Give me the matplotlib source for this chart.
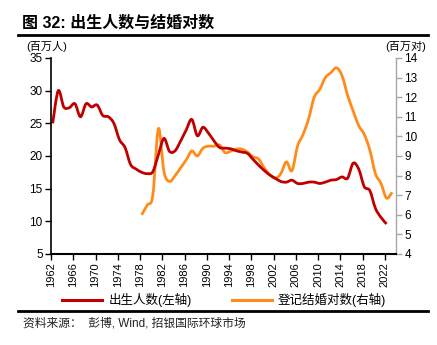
import matplotlib
matplotlib.use('Agg')
import matplotlib.pyplot as plt
from matplotlib.lines import Line2D
from matplotlib.path import Path
from matplotlib.patches import PathPatch

plt.rcParams['font.family'] = ['Liberation Sans', 'Noto Sans CJK SC', 'DejaVu Sans']

# 出生人数（百万人），1962-2022
birth_years = list(range(1962, 2023))
births = [25.0, 30.0, 27.5, 27.4, 28.0, 26.0, 28.0, 27.5, 27.8, 26.2,
          26.0, 25.0, 22.5, 21.3, 18.7, 18.0, 17.5, 17.3, 17.6, 20.2,
          22.7, 20.7, 20.8, 22.3, 24.0, 25.6, 23.1, 24.4, 23.5, 22.3,
          21.3, 21.2, 21.1, 20.8, 20.6, 20.4, 19.5, 18.6, 17.8, 17.1,
          16.6, 16.1, 16.0, 16.3, 15.8, 15.8, 16.0, 16.0, 15.8, 16.0,
          16.3, 16.4, 16.8, 16.6, 18.9, 18.0, 15.3, 14.7, 12.0, 10.6, 9.6]

# 登记结婚对数（百万对），1978-2023
marriage_years = list(range(1978, 2024))
marriages = [6.0, 6.5, 7.0, 10.4, 8.2, 7.7, 8.0, 8.4, 8.8, 9.26,
             9.0, 9.4, 9.5, 9.5, 9.56, 9.17, 9.25, 9.35, 9.35, 9.2,
             8.96, 8.85, 8.4, 8.05, 7.86, 8.1, 8.7, 8.25, 9.5, 10.1,
             10.9, 12.0, 12.4, 13.0, 13.25, 13.5, 13.1, 12.1, 11.3, 10.55,
             10.1, 9.3, 8.1, 7.6, 6.85, 7.15]

xticks = list(range(1962, 2023, 4))

red = '#C00000'
orange = '#FF8C1A'


def smooth_line(ax, xs, ys, color, lw):
    # 平滑折线：相邻点之间用三次贝塞尔曲线连接
    n = len(xs)
    verts = [(xs[0], ys[0])]
    codes = [Path.MOVETO]
    for i in range(n - 1):
        x0, y0 = xs[max(i - 1, 0)], ys[max(i - 1, 0)]
        x1, y1 = xs[i], ys[i]
        x2, y2 = xs[i + 1], ys[i + 1]
        x3, y3 = xs[min(i + 2, n - 1)], ys[min(i + 2, n - 1)]
        verts += [(x1 + (x2 - x0) / 6, y1 + (y2 - y0) / 6),
                  (x2 - (x3 - x1) / 6, y2 - (y3 - y1) / 6),
                  (x2, y2)]
        codes += [Path.CURVE4] * 3
    ax.add_patch(PathPatch(Path(verts, codes), fill=False, edgecolor=color,
                           lw=lw, capstyle='butt', joinstyle='round'))


fig = plt.figure(figsize=(4.37, 3.45), dpi=100)

# 标题与上下分隔线
fig.text(22 / 437, 1 - 23 / 345, '图 32: 出生人数与结婚对数', fontsize=11.5,
         fontweight='bold', va='center', ha='left')
fig.add_artist(Line2D([18 / 437, 428 / 437], [1 - 35 / 345] * 2, color='black', lw=2))
fig.add_artist(Line2D([18 / 437, 428 / 437], [1 - 311 / 345] * 2, color='black', lw=2))
fig.text(23 / 437, 1 - 323 / 345, '资料来源：  彭博, Wind, 招银国际环球市场', fontsize=8.5,
         va='center', ha='left', color='#222222')

ax = fig.add_axes([51 / 437, 1 - 254 / 345, 345 / 437, 196 / 345])
ax2 = ax.twinx()

# 数据点落在年中
off = 0.3
smooth_line(ax, [y + off for y in birth_years], births, red, 2)
smooth_line(ax2, [y + off for y in marriage_years], marriages, orange, 2)
ax.set_zorder(ax2.get_zorder() + 1)
ax.patch.set_visible(False)

ax.set_xlim(1962, 2024)
ax.set_ylim(5, 35)
ax2.set_ylim(4, 14)
ax.set_yticks(range(5, 36, 5))
ax2.set_yticks(range(4, 15))
ax.set_xticks(xticks)
ax.set_xticklabels([str(x) for x in xticks], rotation=90, fontsize=8)

for s in ['top', 'right']:
    ax.spines[s].set_visible(False)
for s in ['top', 'left', 'bottom']:
    ax2.spines[s].set_visible(False)
ax.spines['left'].set_linewidth(1.2)
ax.spines['bottom'].set_linewidth(1.5)
ax2.spines['right'].set_color('#A6A6A6')
ax2.spines['right'].set_linewidth(1)

ax.tick_params(axis='y', labelsize=8.5, length=4, width=1, pad=2)
ax.tick_params(axis='x', length=4, width=1, pad=2)
ax2.tick_params(axis='y', labelsize=8.5, length=4, width=1, color='#A6A6A6', pad=2)

fig.text(26 / 437, 1 - 46 / 345, '(百万人)', fontsize=8, va='center', ha='left')
fig.text(426 / 437, 1 - 46 / 345, '(百万对)', fontsize=8, va='center', ha='right')

# 图例
handles = [Line2D([], [], color=red, lw=2.2), Line2D([], [], color=orange, lw=2.2)]
fig.legend(handles, ['出生人数(左轴)', '登记结婚对数(右轴)'], loc='center',
           bbox_to_anchor=(224 / 437, 1 - 300 / 345), ncol=2, frameon=False,
           fontsize=9, handlelength=3.2, columnspacing=3.2, handletextpad=0.5)

fig.savefig('out.png', dpi=100)
